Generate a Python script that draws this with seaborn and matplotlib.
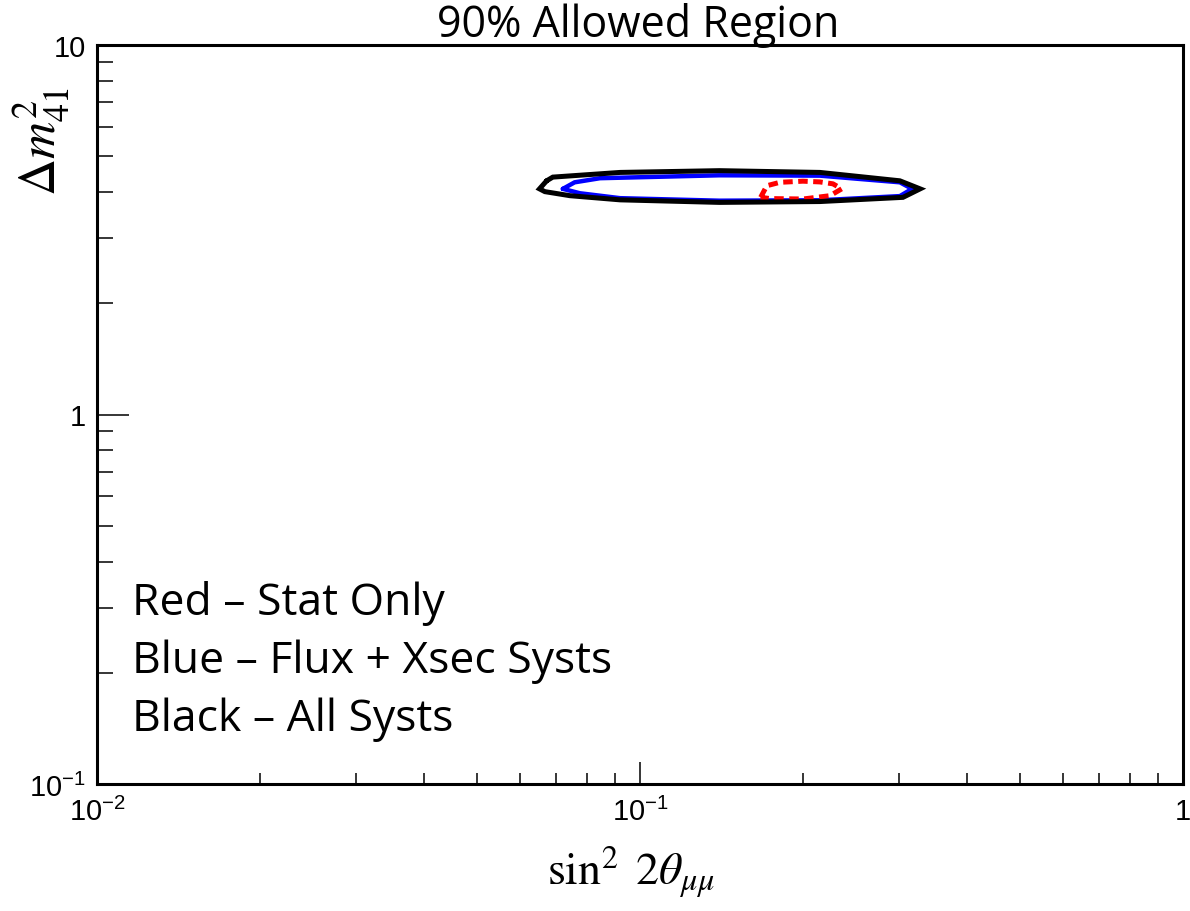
import numpy as np
import pandas as pd
import matplotlib
matplotlib.use("Agg")
import matplotlib.pyplot as plt
import seaborn as sns

# 90% CL allowed-region contours in (sin^2 2theta_mumu, dm^2_41) space
stat_sin2 = [0.1668, 0.1712, 0.1810, 0.1996, 0.2145, 0.2266, 0.2352, 0.2238, 0.1996, 0.1736]
stat_dm2 = [3.87, 4.16, 4.25, 4.28, 4.26, 4.21, 4.08, 3.91, 3.83, 3.84]

flux_xsec_sin2 = [0.0721, 0.0758, 0.0844, 0.140, 0.2145, 0.301, 0.317, 0.301, 0.2145, 0.140, 0.0919, 0.0775]
flux_xsec_dm2 = [4.08, 4.25, 4.36, 4.44, 4.43, 4.25, 4.08, 3.90, 3.80, 3.79, 3.85, 3.97]

all_syst_sin2 = [0.0673, 0.0653, 0.0668, 0.0743, 0.0919, 0.140, 0.2145, 0.305, 0.328, 0.301, 0.2145, 0.140, 0.0919, 0.0691]
all_syst_dm2 = [4.29, 4.08, 4.01, 3.91, 3.81, 3.75, 3.77, 3.87, 4.08, 4.29, 4.52, 4.57, 4.52, 4.39]

x_ticks = [0.01, 0.1, 1]
x_ticklabels = [r"$\mathregular{10^{-2}}$", r"$\mathregular{10^{-1}}$", "1"]
y_ticks = [0.1, 1, 10]
y_ticklabels = [r"$\mathregular{10^{-1}}$", "1", "10"]

legend_lines = ["Red \u2013 Stat Only", "Blue \u2013 Flux + Xsec Systs", "Black \u2013 All Systs"]

sns.set_style("white")
plt.rcParams["font.family"] = ["Open Sans", "DejaVu Sans"]
plt.rcParams["mathtext.fontset"] = "stix"


def closed(xs, ys):
    return pd.DataFrame({"x": list(xs) + [xs[0]], "y": list(ys) + [ys[0]]})


W, H = 1190, 912
fig = plt.figure(figsize=(W / 100, H / 100), dpi=100)
left, right, top, bottom = 97, 1183, 46, 785
ax = fig.add_axes([left / W, 1 - bottom / H, (right - left) / W, (bottom - top) / H])

blue = closed(flux_xsec_sin2, flux_xsec_dm2)
red = closed(stat_sin2, stat_dm2)
black = closed(all_syst_sin2, all_syst_dm2)

sns.lineplot(data=blue, x="x", y="y", sort=False, estimator=None, ax=ax,
             color="#0000ff", lw=3.2, solid_joinstyle="miter")
sns.lineplot(data=red, x="x", y="y", sort=False, estimator=None, ax=ax,
             color="#ff0000", lw=3.6, linestyle=(0, (1.9, 1.1)))
sns.lineplot(data=black, x="x", y="y", sort=False, estimator=None, ax=ax,
             color="black", lw=3.6, solid_joinstyle="miter")

ax.set_xscale("log")
ax.set_yscale("log")
ax.set_xlim(0.01, 1)
ax.set_ylim(0.1, 10)
ax.set_xlabel("")
ax.set_ylabel("")

ax.set_xticks(x_ticks)
ax.set_xticklabels(x_ticklabels)
ax.set_yticks(y_ticks)
ax.set_yticklabels(y_ticklabels)
ax.xaxis.set_minor_locator(matplotlib.ticker.LogLocator(base=10, subs=np.arange(2, 10)))
ax.yaxis.set_minor_locator(matplotlib.ticker.LogLocator(base=10, subs=np.arange(2, 10)))
ax.xaxis.set_minor_formatter(matplotlib.ticker.NullFormatter())
ax.yaxis.set_minor_formatter(matplotlib.ticker.NullFormatter())

ax.tick_params(axis="both", which="both", direction="in", bottom=True, left=True,
               top=False, right=False, width=1.1, color="black", labelcolor="black")
ax.tick_params(axis="x", which="major", length=15.8, pad=9, labelsize=21)
ax.tick_params(axis="x", which="minor", length=7.9)
ax.tick_params(axis="y", which="major", length=23, pad=8, labelsize=21)
ax.tick_params(axis="y", which="minor", length=11.5)
for lbl in ax.get_xticklabels() + ax.get_yticklabels():
    lbl.set_fontfamily(["Liberation Sans", "DejaVu Sans"])

for sp in ax.spines.values():
    sp.set_linewidth(2.2)
    sp.set_color("black")

# axis titles
fig.text(547 / W, 1 - 885 / H, r"$\sin^2\ 2\theta_{\mu\mu}$", ha="left", va="baseline",
         fontsize=33, color="black")
fig.text(56 / W, 1 - 88 / H, r"$\mathit{\Delta} m^2_{41}$", ha="right", va="baseline",
         rotation=90, rotation_mode="anchor", fontsize=37, color="black")

# title
fig.text(638 / W, 1 - 37 / H, "90% Allowed Region", ha="center", va="baseline",
         fontsize=31, color="black")

# colour key
for txt, base in zip(legend_lines, [615, 673, 731]):
    fig.text(132 / W, 1 - base / H, txt, ha="left", va="baseline", fontsize=32, color="black")

fig.savefig("out.png", dpi=100, facecolor="white")
